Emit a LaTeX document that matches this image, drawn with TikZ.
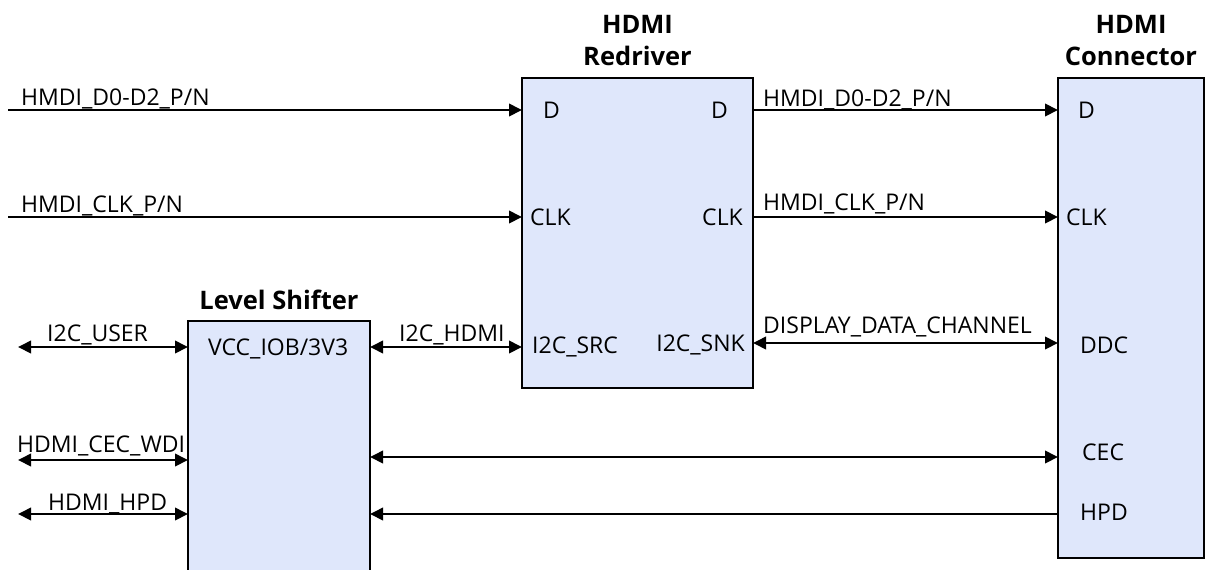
\documentclass[tikz,border=0pt]{standalone}
\usepackage{fontspec}
\setmainfont{Open Sans}
\usetikzlibrary{arrows.meta}
\definecolor{boxfill}{RGB}{223,231,251}
\begin{document}
\begin{tikzpicture}[x=1pt,y=-1pt,
  box/.style={draw=black,line width=2.2pt,fill=boxfill,anchor=north west,inner sep=0pt,outer sep=0pt},
  wire/.style={line width=2pt},
  ar/.style={wire,-{Triangle[length=13pt,width=12.5pt]}},
  ra/.style={wire,{Triangle[length=13pt,width=12.5pt]}-},
  bi/.style={wire,{Triangle[length=13pt,width=12.5pt]}-{Triangle[length=13pt,width=12.5pt]}},
  lbl/.style={font=\fontsize{23}{26}\selectfont,inner sep=0pt,anchor=base west},
  lblr/.style={lbl,anchor=base east},
  ttl/.style={font=\fontsize{25.5}{28}\selectfont\bfseries,inner sep=0pt,anchor=base}]
\useasboundingbox (0,0) rectangle (1205,570);

% boxes
\node[box,minimum width=231pt,minimum height=310pt] (red) at (522,78) {};
\node[box,minimum width=146pt,minimum height=480pt] (con) at (1058,78) {};
\node[box,minimum width=182pt,minimum height=260pt] (ls) at (188,321) {};

% titles
\node[ttl] (t1a) at (637.5,33) {HDMI};
\node[ttl] (t1b) at (637.5,65) {Redriver};
\node[ttl] (t2a) at (1131,33) {HDMI};
\node[ttl] (t2b) at (1131,65) {Connector};
\node[ttl] (t3) at (279,309) {Level Shifter};

% rows
\coordinate (rD) at (0,110);
\coordinate (rCLK) at (0,217);
\coordinate (rI2C) at (0,347);
\coordinate (rDDC) at (0,343);
\coordinate (rCEC) at (0,457);
\coordinate (rHPD) at (0,514);
\coordinate (inD) at (8,110);
\coordinate (inCLK) at (8,217);
\coordinate (uI2C) at (18,347);
\coordinate (uCEC) at (18,460);
\coordinate (uHPD) at (18,514);

% connectors
\draw[ar] (inD) -- (red.west |- inD);
\draw[ar] (inCLK) -- (red.west |- inCLK);
\draw[ar] (red.east |- rD) -- (con.west |- rD);
\draw[ar] (red.east |- rCLK) -- (con.west |- rCLK);
\draw[bi] (red.east |- rDDC) -- (con.west |- rDDC);
\draw[bi] (ls.east |- rI2C) -- (red.west |- rI2C);
\draw[bi] (uI2C) -- (ls.west |- uI2C);
\draw[bi] (uCEC) -- (ls.west |- uCEC);
\draw[bi] (uHPD) -- (ls.west |- uHPD);
\draw[bi] (ls.east |- rCEC) -- (con.west |- rCEC);
\draw[ra] (ls.east |- rHPD) -- (con.west |- rHPD);

% signal labels
\node[lbl] (sD1) at (21,105) {HMDI\_D0-D2\_P/N};
\node[lbl] (sC1) at (21,212) {HMDI\_CLK\_P/N};
\node[lbl] (sD2) at (763,106) {HMDI\_D0-D2\_P/N};
\node[lbl] (sC2) at (763,210) {HMDI\_CLK\_P/N};
\node[lbl] (sDDC) at (763,333) {DISPLAY\_DATA\_CHANNEL};
\node[lbl] (sU) at (47,341) {I2C\_USER};
\node[lbl] (sH) at (399,341) {I2C\_HDMI};
\node[lbl] (sW) at (17,452) {HDMI\_CEC\_WDI};
\node[lbl] (sP) at (48,510) {HDMI\_HPD};

% port labels
\node[lbl] (pD1) at (543,118) {D};
\node[lblr] (pD2) at (728,118) {D};
\node[lbl] (pC1) at (530,225) {CLK};
\node[lblr] (pC2) at (743,225) {CLK};
\node[lbl] (pS1) at (532,353) {I2C\_SRC};
\node[lblr] (pS2) at (745,351) {I2C\_SNK};
\node[lbl] (qD) at (1078,118) {D};
\node[lbl] (qC) at (1066,225) {CLK};
\node[lbl] (qDDC) at (1080,353) {DDC};
\node[lbl] (qCEC) at (1082,460) {CEC};
\node[lbl] (qHPD) at (1080,520) {HPD};
\node[lbl] (vcc) at (208,355) {VCC\_IOB/3V3};
\end{tikzpicture}
\end{document}
